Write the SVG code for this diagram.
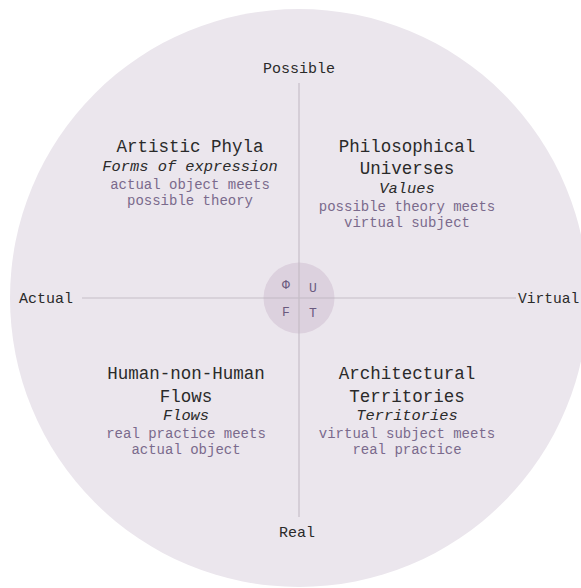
<svg xmlns="http://www.w3.org/2000/svg" width="581" height="588" viewBox="0 0 581 588">
<style>
text{font-family:"Liberation Mono","Courier New",monospace;text-anchor:middle}
.t{font-size:17.5px;fill:#2a2a2a}
.i{font-size:15.4px;font-style:italic;fill:#2a2a2a}
.s{font-size:14px;fill:#7a6a8c}
.ax{font-size:15px;fill:#2a2a2a}
.c{font-size:13px;fill:#6a5a7e}
.ln{stroke:#c6bec8;stroke-width:1.2;fill:none}
</style>
<rect width="581" height="588" fill="#ffffff"/>
<g id="background">
<circle cx="299" cy="298" r="289" fill="#ebe6ed"/>
</g>
<g id="connectors">
<line class="ln" x1="299" y1="83" x2="299" y2="517"/>
<line class="ln" x1="82" y1="298" x2="516" y2="298"/>
</g>
<g id="core">
<circle cx="299" cy="298" r="35.5" fill="#d9cddb" fill-opacity="0.85"/>
<line class="ln" x1="299" y1="262.5" x2="299" y2="333.5"/>
<line class="ln" x1="263.5" y1="298" x2="334.5" y2="298"/>
<text class="c" x="286" y="289">Φ</text>
<text class="c" x="313" y="292">U</text>
<text class="c" x="286" y="316">F</text>
<text class="c" x="313" y="317">T</text>
</g>
<g id="axis-possible"><text class="ax" x="299" y="73">Possible</text></g>
<g id="axis-real"><text class="ax" x="297" y="537">Real</text></g>
<g id="axis-actual"><text class="ax" x="46" y="303">Actual</text></g>
<g id="axis-virtual"><text class="ax" x="518" y="303" style="text-anchor:start;font-size:14.6px">Virtual</text></g>
<g id="artistic-phyla">
<text class="t" x="190" y="152">Artistic Phyla</text>
<text class="i" x="190" y="171">Forms of expression</text>
<text class="s" x="190" y="189">actual object meets</text>
<text class="s" x="190" y="205">possible theory</text>
</g>
<g id="philosophical-universes">
<text class="t" x="407" y="152">Philosophical</text>
<text class="t" x="407" y="174">Universes</text>
<text class="i" x="407" y="193">Values</text>
<text class="s" x="407" y="211">possible theory meets</text>
<text class="s" x="407" y="227">virtual subject</text>
</g>
<g id="human-flows">
<text class="t" x="186" y="379">Human-non-Human</text>
<text class="t" x="186" y="402">Flows</text>
<text class="i" x="186" y="420">Flows</text>
<text class="s" x="186" y="438">real practice meets</text>
<text class="s" x="186" y="454">actual object</text>
</g>
<g id="architectural-territories">
<text class="t" x="407" y="379">Architectural</text>
<text class="t" x="407" y="402">Territories</text>
<text class="i" x="407" y="420">Territories</text>
<text class="s" x="407" y="438">virtual subject meets</text>
<text class="s" x="407" y="454">real practice</text>
</g>
</svg>
